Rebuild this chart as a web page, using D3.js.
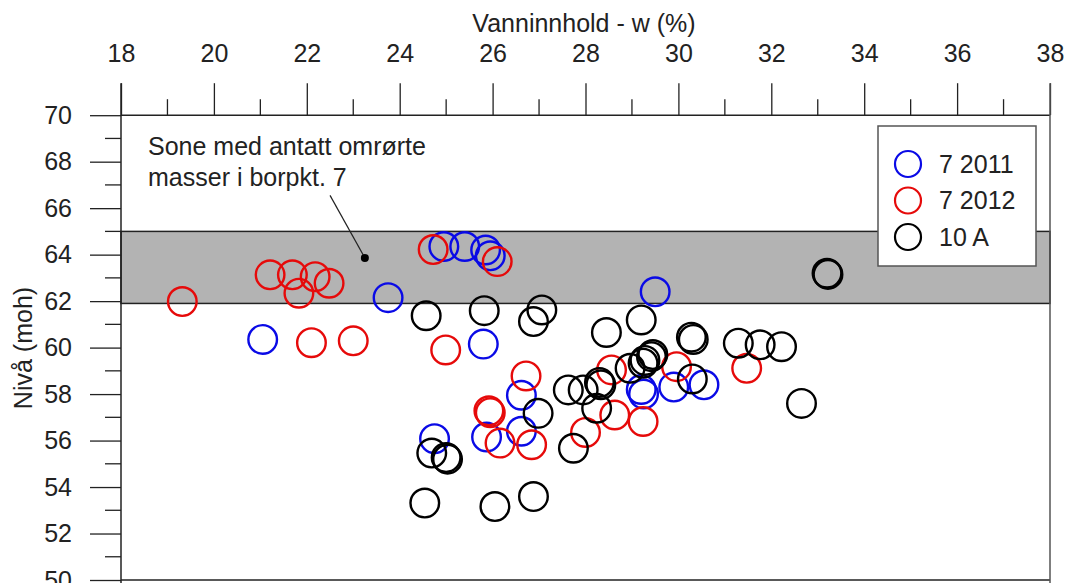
<!DOCTYPE html>
<html><head><meta charset="utf-8">
<script src="https://cdn.jsdelivr.net/npm/d3@7"></script>
<style>
body{margin:0;background:#fff;}
svg{display:block;font-family:"Liberation Sans",Arial,sans-serif;}
</style></head>
<body>
<svg id="chart" width="1065" height="583"></svg>
<script>
// ---- data ----
const xTicks = [18,20,22,24,26,28,30,32,34,36,38];
const yTicks = [50,52,54,56,58,60,62,64,66,68,70];
const seriesNames = ["7 2011","7 2012","10 A"];
const seriesColors = ["#0a0ae6","#e60a0a","#000000"];

const blueX = [21.05,23.75,24.95,25.4,25.85,25.95,29.5,25.8,24.75,25.87,26.62,26.62,29.2,29.25,29.9,30.55];
const blueY = [60.35,62.15,64.35,64.35,64.2,63.95,62.4,60.15,56.08,56.15,57.95,56.4,58.2,58.0,58.3,58.4];

const redX = [19.32,21.21,21.69,22.18,22.48,21.83,22.1,23.0,24.99,24.72,26.1,26.72,25.92,25.95,26.16,26.84,28.0,28.63,29.24,28.56,29.96,31.47];
const redY = [61.98,63.13,63.13,63.05,62.77,62.34,60.21,60.29,59.9,64.22,63.7,58.78,57.28,57.2,55.89,55.82,56.35,57.1,56.82,59.04,59.18,59.11];

const blackX = [24.57,25.82,27.06,26.88,28.45,29.2,30.28,30.32,31.29,31.76,32.22,33.2,33.22,32.65,30.3,27.63,27.95,28.3,28.33,28.24,28.96,29.24,29.42,29.45,26.98,27.74,24.69,25.0,25.03,24.54,26.05,26.88,29.28];
const blackY = [61.37,61.59,61.62,61.12,60.65,61.19,60.45,60.35,60.19,60.12,60.04,63.2,63.15,57.6,58.65,58.18,58.18,58.5,58.4,57.39,59.11,59.33,59.61,59.7,57.17,55.67,55.46,55.27,55.2,53.31,53.16,53.59,59.45];

const zoneLow = 61.9, zoneHigh = 65.0;
const noteLines = ["Sone med antatt omrørte","masser i borpkt. 7"];
const notePoint = [23.25, 63.86];
const noteLineStart = [22.5, 66.55];

// ---- layout ----
const svg = d3.select("#chart");
const L = 121, R = 1050, T = 115.2, B = 580;
const x = d3.scaleLinear().domain([18,38]).range([L,R]);
const y = d3.scaleLinear().domain([50,70]).range([B,T]);
const FS = 25;

// zone band
svg.append("rect")
  .attr("x", x(18)).attr("width", x(38)-x(18))
  .attr("y", y(zoneHigh)).attr("height", y(zoneLow)-y(zoneHigh))
  .attr("fill","#b3b3b3").attr("stroke","#222").attr("stroke-width",1.5);

// top axis (major + minor)
const xMinor = d3.range(19,38,2);
const xAxis = d3.axisTop(x).tickValues(xTicks).tickSize(32).tickPadding(21).tickFormat(d3.format("d"));
const gx = svg.append("g").attr("transform",`translate(0,${T})`).call(xAxis);
gx.select(".domain").remove();
gx.selectAll(".tick line").attr("stroke","#222").attr("stroke-width",1.3);
gx.selectAll(".tick text").attr("font-size",FS).attr("fill","#222").attr("font-family","Liberation Sans, Arial, sans-serif");
svg.append("g").selectAll("line").data(xMinor).join("line")
  .attr("x1",d=>x(d)).attr("x2",d=>x(d)).attr("y1",T).attr("y2",T-16)
  .attr("stroke","#222").attr("stroke-width",1.3);

// left axis
const yMinor = d3.range(51,70,2);
const yAxis = d3.axisLeft(y).tickValues(yTicks).tickSize(31).tickPadding(18).tickFormat(d3.format("d"));
const gy = svg.append("g").attr("transform",`translate(${L},0)`).call(yAxis);
gy.select(".domain").remove();
gy.selectAll(".tick line").attr("stroke","#222").attr("stroke-width",1.3);
gy.selectAll(".tick text").attr("font-size",FS).attr("fill","#222").attr("font-family","Liberation Sans, Arial, sans-serif");
svg.append("g").selectAll("line").data(yMinor).join("line")
  .attr("x1",L-16).attr("x2",L).attr("y1",d=>y(d)).attr("y2",d=>y(d))
  .attr("stroke","#222").attr("stroke-width",1.3);

// frame lines
svg.append("line").attr("x1",L).attr("x2",R).attr("y1",T).attr("y2",T).attr("stroke","#222").attr("stroke-width",1.5);
svg.append("line").attr("x1",L).attr("x2",R).attr("y1",B).attr("y2",B).attr("stroke","#222").attr("stroke-width",1.5);
svg.append("line").attr("x1",L).attr("x2",L).attr("y1",T-32).attr("y2",600).attr("stroke","#222").attr("stroke-width",1.5);
svg.append("line").attr("x1",R).attr("x2",R).attr("y1",T-32).attr("y2",600).attr("stroke","#555").attr("stroke-width",1.5);

// axis titles
svg.append("text").attr("x",584).attr("y",32).attr("text-anchor","middle")
  .attr("font-size",FS).attr("fill","#222").text("Vanninnhold - w (%)");
svg.append("text").attr("transform",`translate(32,348) rotate(-90)`).attr("text-anchor","middle")
  .attr("font-size",FS).attr("fill","#222").text("Nivå (moh)");

// points
const series = [
  {xs: blueX, ys: blueY, c: seriesColors[0]},
  {xs: redX, ys: redY, c: seriesColors[1]},
  {xs: blackX, ys: blackY, c: seriesColors[2]}
];
series.forEach(s => {
  svg.append("g").selectAll("circle").data(s.xs.map((v,i)=>[v,s.ys[i]])).join("circle")
    .attr("cx",d=>x(d[0])).attr("cy",d=>y(d[1])).attr("r",14.3)
    .attr("fill","none").attr("stroke",s.c).attr("stroke-width",2.4);
});

// annotation
const noteG = svg.append("g");
noteLines.forEach((t,i)=>{
  noteG.append("text").attr("x",148).attr("y",155+i*31).attr("font-size",FS).attr("fill","#222").text(t);
});
noteG.append("line").attr("x1",x(noteLineStart[0])).attr("y1",y(noteLineStart[1]))
  .attr("x2",x(notePoint[0])).attr("y2",y(notePoint[1])).attr("stroke","#222").attr("stroke-width",1.2);
noteG.append("circle").attr("cx",x(notePoint[0])).attr("cy",y(notePoint[1])).attr("r",4).attr("fill","#000");

// legend
const lg = svg.append("g");
lg.append("rect").attr("x",878).attr("y",126).attr("width",158).attr("height",140)
  .attr("fill","#fff").attr("stroke","#555").attr("stroke-width",1.5);
seriesNames.forEach((n,i)=>{
  const cy = 164 + i*36.5;
  lg.append("circle").attr("cx",908).attr("cy",cy).attr("r",13).attr("fill","none")
    .attr("stroke",seriesColors[i]).attr("stroke-width",2.2);
  lg.append("text").attr("x",939).attr("y",cy).attr("dy","0.35em").attr("font-size",FS).attr("fill","#222").text(n);
});
</script>
</body></html>
